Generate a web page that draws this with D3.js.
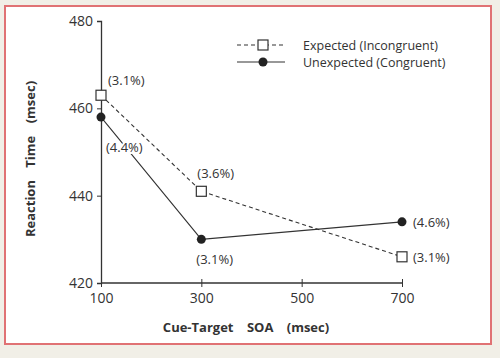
<!DOCTYPE html>
<html><head><meta charset="utf-8">
<script src="https://cdn.jsdelivr.net/npm/d3@7"></script>
<style>
html,body{margin:0;padding:0;background:#f1efe7;}
svg{display:block;}
text{font-family:"Open Sans", sans-serif;fill:#333;}
</style></head><body>
<script>
const soa = [100, 300, 700];
const expectedRT = [463, 441, 426];
const unexpectedRT = [458, 430, 434];
const expectedErr = ["(3.1%)", "(3.6%)", "(3.1%)"];
const unexpectedErr = ["(4.4%)", "(3.1%)", "(4.6%)"];
const xTicks = [100, 300, 500, 700];
const yTicks = [420, 440, 460, 480];
const seriesNames = ["Expected (Incongruent)", "Unexpected (Congruent)"];

const W = 500, H = 358;
const svg = d3.select("body").append("svg").attr("width", W).attr("height", H);
svg.append("rect").attr("x", 5).attr("y", 6).attr("width", 486).attr("height", 338)
  .attr("fill", "#fff").attr("stroke", "#e07274").attr("stroke-width", 2);

const x = d3.scaleLinear().domain([100, 700]).range([101, 402]);
const y = d3.scaleLinear().domain([420, 480]).range([283, 21]);

const ink = "#333";
const ff = "'Open Sans', sans-serif";
// axes
const yAxis = svg.append("g").attr("transform", `translate(${x(100)},0)`)
  .call(d3.axisLeft(y).tickValues(yTicks).tickSize(4).tickPadding(4));
yAxis.select(".domain").attr("stroke", ink).attr("stroke-width", 1.3);
yAxis.selectAll(".tick line").attr("stroke", ink);
yAxis.selectAll("text").attr("font-size", 14).attr("fill", "#444").attr("font-family", ff);

const xAxis = svg.append("g").attr("transform", `translate(0,${y(420)})`)
  .call(d3.axisBottom(x).tickValues(xTicks).tickSize(4).tickPadding(6));
xAxis.select(".domain").attr("stroke", ink).attr("stroke-width", 1.3).attr("d", `M${x(100)},0H${x(700)}`);
xAxis.selectAll(".tick line").attr("stroke", ink).attr("y1", -4).attr("y2", 4);
xAxis.selectAll("text").attr("font-size", 14).attr("fill", "#444").attr("font-family", ff);

// titles
svg.append("text").attr("x", 246).attr("y", 332).attr("text-anchor", "middle")
  .attr("font-size", 13).attr("font-weight", "bold").attr("fill", "#333")
  .attr("word-spacing", 10).text("Cue-Target SOA (msec)");
svg.append("text").attr("transform", "translate(35,159) rotate(-90)").attr("text-anchor", "middle")
  .attr("font-size", 13).attr("font-weight", "bold").attr("fill", "#333")
  .attr("word-spacing", 9).text("Reaction Time (msec)");

const line = d3.line().x(d => x(d[0])).y(d => y(d[1]));
const eData = soa.map((s, i) => [s, expectedRT[i]]);
const uData = soa.map((s, i) => [s, unexpectedRT[i]]);

svg.append("path").attr("d", line(eData)).attr("fill", "none").attr("stroke", ink)
  .attr("stroke-width", 1.1).attr("stroke-dasharray", "4,3");
svg.append("path").attr("d", line(uData)).attr("fill", "none").attr("stroke", ink)
  .attr("stroke-width", 1.1);

svg.selectAll(".sq").data(eData).enter().append("rect")
  .attr("x", d => x(d[0]) - 5).attr("y", d => y(d[1]) - 5).attr("width", 10).attr("height", 10)
  .attr("fill", "#fff").attr("stroke", ink).attr("stroke-width", 1.2);
svg.selectAll(".ci").data(uData).enter().append("circle")
  .attr("cx", d => x(d[0])).attr("cy", d => y(d[1])).attr("r", 4.5).attr("fill", "#222");

// error labels
const eOff = [[7, -10], [-4, -13], [11, 5]];
const uOff = [[5, 35], [-5, 25], [11, 5]];
const lblStyle = sel => sel.attr("font-size", 13).attr("fill", "#444")
  .attr("stroke", "#fff").attr("stroke-width", 4).attr("paint-order", "stroke").attr("stroke-linejoin", "round");
svg.selectAll(".el").data(eData).enter().append("text")
  .attr("x", (d, i) => x(d[0]) + eOff[i][0]).attr("y", (d, i) => y(d[1]) + eOff[i][1])
  .call(lblStyle).text((d, i) => expectedErr[i]);
svg.selectAll(".ul").data(uData).enter().append("text")
  .attr("x", (d, i) => x(d[0]) + uOff[i][0]).attr("y", (d, i) => y(d[1]) + uOff[i][1])
  .call(lblStyle).text((d, i) => unexpectedErr[i]);

// legend
const lg = svg.append("g");
lg.append("line").attr("x1", 237).attr("x2", 285).attr("y1", 45).attr("y2", 45)
  .attr("stroke", ink).attr("stroke-width", 1.1).attr("stroke-dasharray", "4,3");
lg.append("rect").attr("x", 258).attr("y", 40).attr("width", 10).attr("height", 10)
  .attr("fill", "#fff").attr("stroke", ink).attr("stroke-width", 1.2);
lg.append("line").attr("x1", 237).attr("x2", 285).attr("y1", 62).attr("y2", 62)
  .attr("stroke", ink).attr("stroke-width", 1.1);
lg.append("circle").attr("cx", 263).attr("cy", 62).attr("r", 4.5).attr("fill", "#222");
lg.selectAll("text").data(seriesNames).enter().append("text")
  .attr("x", 303).attr("y", (d, i) => 50 + i * 17).attr("font-size", 12.5).attr("fill", "#444").text(d => d);
</script>
</body></html>
